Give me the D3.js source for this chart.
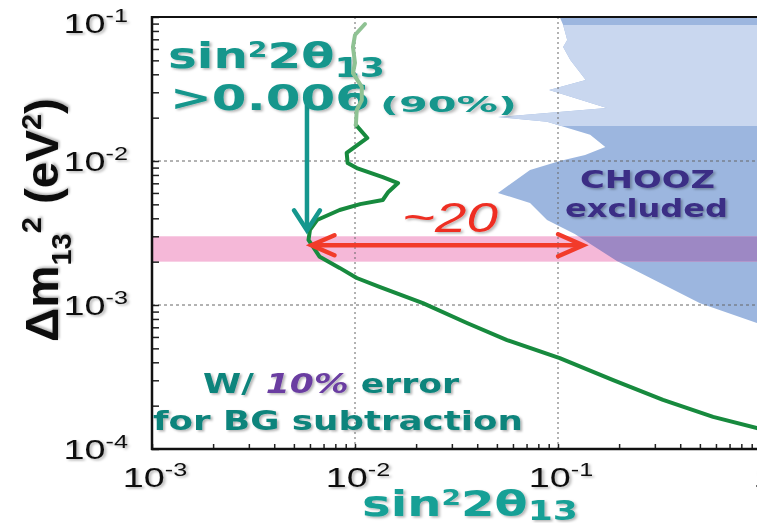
<!DOCTYPE html>
<html>
<head>
<meta charset="utf-8">
<script src="https://cdn.jsdelivr.net/npm/d3@7"></script>
<style>
  body { margin: 0; background: #fff; }
  svg { display: block; }
</style>
</head>
<body>
<svg width="757" height="523"></svg>
<script>
// axis ticks
var xTicks = [1e-3, 1e-2, 1e-1, 1];
var yTicks = [1e-4, 1e-3, 1e-2, 1e-1];
var xGrid = [1e-2, 1e-1];
var yGrid = [1e-2, 1e-3];

// CHOOZ excluded region, left edge (top to bottom)
var choozX = [0.102, 0.106, 0.111, 0.106, 0.115, 0.137, 0.0904, 0.174, 0.0506, 0.0883, 0.144, 0.171,
  0.136, 0.102, 0.0728, 0.0506, 0.0728, 0.0883, 0.121, 0.195, 0.501, 0.955, 1, 1];
var choozY = [0.1, 0.088, 0.0692, 0.0619, 0.0502, 0.0365, 0.0311, 0.0233, 0.0202, 0.0187, 0.0152, 0.0125,
  0.0110, 0.0100, 0.00866, 0.0060, 0.00511, 0.00389, 0.00311, 0.00202, 0.00103, 0.00075, 0.00072, 0.1];
var choozLight = [0.0175, 0.088];

// sensitivity curve (90% CL), upper faint part and main part
var limitTopX = [0.0112, 0.0100, 0.00977, 0.0100, 0.00977, 0.0108, 0.0108, 0.0102, 0.0101];
var limitTopY = [0.0894, 0.0750, 0.0619, 0.0480, 0.0408, 0.0327, 0.0265, 0.0226, 0.0178];
var limitX = [0.0101, 0.0115, 0.0091, 0.0092, 0.0102, 0.0137, 0.0163, 0.0146, 0.0137, 0.0106, 0.0084,
  0.0065, 0.0060, 0.0059, 0.0067, 0.0084, 0.0102, 0.0133, 0.0216, 0.0356, 0.0561, 0.102, 0.187,
  0.329, 0.581, 0.955, 1.0];
var limitY = [0.0178, 0.01445, 0.01137, 0.00968, 0.00893, 0.00774, 0.00703, 0.00610, 0.00536, 0.00502,
  0.00457, 0.00389, 0.00332, 0.00283, 0.00216, 0.00181, 0.00154, 0.00133, 0.00103, 0.00075, 0.000571,
  0.000428, 0.000301, 0.000219, 0.000167, 0.000140, 0.000136];

// atmospheric dm2 band and annotations
var dmBand = [0.002, 0.003];
var bestX = 0.0058, bestArrowY = [0.0265, 0.0033];
var ratioY = 0.0026, ratioX = [0.0061, 0.133];

var svg = d3.select("svg");
var x = d3.scaleLog().domain([1e-3, 1]).range([152, 761]);
var y = d3.scaleLog().domain([1e-4, 1e-1]).range([449, 17]);

var defs = svg.append("defs");
defs.append("clipPath").attr("id", "plot")
  .append("rect").attr("x", 152).attr("y", 17).attr("width", 609).attr("height", 432);
var choozPts = choozX.map(function(d, i) { return [x(d), y(choozY[i])]; });
defs.append("clipPath").attr("id", "chooz")
  .append("polygon").attr("points", choozPts.join(" "));
var sh = defs.append("filter").attr("id", "shadow")
  .attr("x", "-10%").attr("y", "-20%").attr("width", "130%").attr("height", "150%");
sh.append("feDropShadow").attr("dx", 1.5).attr("dy", 1.5).attr("stdDeviation", 1)
  .attr("flood-color", "#000").attr("flood-opacity", 0.3);

var plot = svg.append("g").attr("clip-path", "url(#plot)");

// CHOOZ region
plot.append("polygon").attr("points", choozPts.join(" ")).attr("fill", "#9cb6df");
plot.append("rect").attr("clip-path", "url(#chooz)")
  .attr("x", x(1e-3)).attr("width", x(1) - x(1e-3))
  .attr("y", y(choozLight[1])).attr("height", y(choozLight[0]) - y(choozLight[1]))
  .attr("fill", "#c9d7ef");

// dm2 band
plot.append("rect")
  .attr("x", x(1e-3)).attr("width", x(1) - x(1e-3))
  .attr("y", y(dmBand[1])).attr("height", y(dmBand[0]) - y(dmBand[1]))
  .attr("fill", "#f5b8d8");
plot.append("rect").attr("clip-path", "url(#chooz)")
  .attr("x", x(1e-3)).attr("width", x(1) - x(1e-3))
  .attr("y", y(dmBand[1])).attr("height", y(dmBand[0]) - y(dmBand[1]))
  .attr("fill", "#9d88c4");

// grid
xGrid.forEach(function(v) {
  plot.append("line").attr("x1", x(v)).attr("x2", x(v)).attr("y1", 17).attr("y2", 449)
    .attr("stroke", "#666").attr("stroke-width", 1).attr("stroke-dasharray", "2,3");
});
yGrid.forEach(function(v) {
  plot.append("line").attr("x1", 152).attr("x2", 761).attr("y1", y(v)).attr("y2", y(v))
    .attr("stroke", "#666").attr("stroke-width", 1).attr("stroke-dasharray", "3,3");
});

// sensitivity curve (main part)
var line = d3.line().x(function(d) { return x(d[0]); }).y(function(d) { return y(d[1]); });
plot.append("path").datum(limitX.map(function(d, i) { return [d, limitY[i]]; }))
  .attr("d", line).attr("fill", "none").attr("stroke", "#178a3e").attr("stroke-width", 4)
  .attr("stroke-linejoin", "round").attr("stroke-linecap", "round");

// arrows
function chevron(tx, ty, dx, dy, color) {
  svg.append("polyline")
    .attr("points", [[tx + dx, ty - dy], [tx, ty], [tx + dx, ty + dy]].join(" "))
    .attr("fill", "none").attr("stroke", color).attr("stroke-width", 4.5)
    .attr("stroke-linejoin", "miter").attr("stroke-linecap", "round");
}
svg.append("line").attr("x1", x(bestX)).attr("x2", x(bestX))
  .attr("y1", y(bestArrowY[0])).attr("y2", y(bestArrowY[1]) - 2)
  .attr("stroke", "#15978e").attr("stroke-width", 4.5);
svg.append("polyline")
  .attr("points", [[x(bestX) - 13, y(bestArrowY[1]) - 20], [x(bestX), y(bestArrowY[1])],
    [x(bestX) + 13, y(bestArrowY[1]) - 20]].join(" "))
  .attr("fill", "none").attr("stroke", "#15978e").attr("stroke-width", 4.5).attr("stroke-linecap", "round");

svg.append("line").attr("x1", x(ratioX[0]) + 2).attr("x2", x(ratioX[1]) - 2)
  .attr("y1", y(ratioY)).attr("y2", y(ratioY))
  .attr("stroke", "#f23b2a").attr("stroke-width", 4.5);
chevron(x(ratioX[0]), y(ratioY), 23, 10, "#f23b2a");
chevron(x(ratioX[1]), y(ratioY), -25, 11, "#f23b2a");

// axes: inward minor ticks, frame
svg.append("g").attr("transform", "translate(152,0)")
  .call(d3.axisLeft(y).tickValues(y.ticks()).tickSize(-7).tickFormat(""))
  .call(function(g) { g.select(".domain").remove(); g.selectAll("line").attr("stroke", "#222").attr("stroke-width", 1.5); });
svg.append("g").attr("transform", "translate(0,449)")
  .call(d3.axisBottom(x).tickValues(x.ticks()).tickSize(-5).tickFormat(""))
  .call(function(g) { g.select(".domain").remove(); g.selectAll("line").attr("stroke", "#222").attr("stroke-width", 1.5); });
svg.append("line").attr("x1", 152).attr("x2", 757).attr("y1", 17).attr("y2", 17).attr("stroke", "#111").attr("stroke-width", 2);
svg.append("line").attr("x1", 152).attr("x2", 152).attr("y1", 16).attr("y2", 450).attr("stroke", "#111").attr("stroke-width", 2.5);
svg.append("line").attr("x1", 151).attr("x2", 757).attr("y1", 449).attr("y2", 449).attr("stroke", "#111").attr("stroke-width", 2.5);

// text helper: parts with size / shift, stretched horizontally to a width
function label(parts, opt) {
  var g = svg.append("g");
  var t = g.append("text")
    .attr("font-family", opt.font || "DejaVu Sans")
    .attr("font-weight", opt.weight || "bold")
    .attr("fill", opt.color)
    .attr("text-anchor", opt.anchor || "start");
  if (opt.shadow) t.attr("filter", "url(#shadow)");
  var prev = 0;
  parts.forEach(function(p) {
    var off = p.shift || 0;
    var s = t.append("tspan").attr("dy", off - prev).attr("font-size", p.size).text(p.text);
    if (p.color) s.attr("fill", p.color);
    if (p.italic) s.attr("font-style", "italic");
    prev = off;
  });
  var sx = opt.scale || (opt.width / t.node().getBBox().width);
  g.attr("transform", "translate(" + opt.x + "," + opt.y + ") scale(" + sx + ",1)");
  return g;
}

function powLabel(v) {
  var e = Math.round(Math.log10(v));
  if (e === 0) return [{ text: "1", size: 27 }];
  return [{ text: "10", size: 27 }, { text: String(e), size: 18, shift: -11 }];
}

// tick labels
yTicks.forEach(function(v) {
  label(powLabel(v), { x: 128, y: Math.max(y(v) + 10, 33), anchor: "end", scale: 1.4,
    font: "Liberation Sans", weight: "normal", color: "#111", shadow: true });
});
xTicks.forEach(function(v) {
  label(powLabel(v), { x: x(v) + 3, y: 487, anchor: "middle", scale: 1.4,
    font: "Liberation Sans", weight: "normal", color: "#111", shadow: true });
});

// axis titles
label([{ text: "sin", size: 36 }, { text: "2", size: 21, shift: -11 },
  { text: "2θ", size: 36 }, { text: "13", size: 27, shift: 4 }],
  { x: 362, y: 516, width: 216, color: "#17a096", shadow: true });

var yt = svg.append("g");
var ytt = yt.append("text").attr("font-family", "Liberation Sans").attr("font-weight", "bold")
  .attr("fill", "#111").attr("text-anchor", "middle").attr("filter", "url(#shadow)");
var prev = 0;
[{ text: "Δm", size: 46 }, { text: "13", size: 28, shift: 13 }, { text: "2", size: 28, shift: -17 },
 { text: " (eV", size: 46 }, { text: "2", size: 28, shift: -17 }, { text: ")", size: 46 }].forEach(function(p) {
  var off = p.shift || 0;
  ytt.append("tspan").attr("dy", off - prev).attr("font-size", p.size).text(p.text);
  prev = off;
});
var ylen = ytt.node().getBBox().width;
yt.attr("transform", "translate(58,220) scale(1," + (244 / ylen) + ") rotate(-90)");

// annotations
label([{ text: "sin", size: 36 }, { text: "2", size: 21, shift: -11 },
  { text: "2θ", size: 36 }, { text: "13", size: 27, shift: 9 }],
  { x: 168, y: 68, width: 217, color: "#13968c", shadow: true });
label([{ text: ">0.006", size: 36 }], { x: 170, y: 110, width: 200, color: "#13968c", shadow: true });
label([{ text: "(90%)", size: 22 }], { x: 380, y: 112, width: 137, color: "#13968c", shadow: true });

label([{ text: "W/ ", size: 27 }, { text: "10%", size: 27, italic: true, color: "#6a3ea1" },
  { text: " error", size: 27 }], { x: 203, y: 393, width: 257, color: "#0f847c", shadow: true });
label([{ text: "for BG subtraction", size: 27 }], { x: 153, y: 430, width: 370, color: "#0f847c", shadow: true });

label([{ text: "CHOOZ", size: 25 }], { x: 580, y: 188, width: 135, color: "#3a2d85", shadow: true });
label([{ text: "excluded", size: 25 }], { x: 565, y: 217, width: 163, color: "#3a2d85", shadow: true });

label([{ text: "~20", size: 42 }], { x: 402, y: 232, width: 96, font: "Liberation Sans", weight: "normal",
  color: "#ee2f24", shadow: true }).select("text").attr("font-style", "italic");

// faint upper part of the curve, drawn over the labels as in the original
svg.append("path").attr("clip-path", "url(#plot)")
  .datum(limitTopX.map(function(d, i) { return [d, limitTopY[i]]; }))
  .attr("d", line).attr("fill", "none").attr("stroke", "#8fc293").attr("stroke-width", 4)
  .attr("stroke-linejoin", "round").attr("stroke-linecap", "round");
</script>
</body>
</html>
